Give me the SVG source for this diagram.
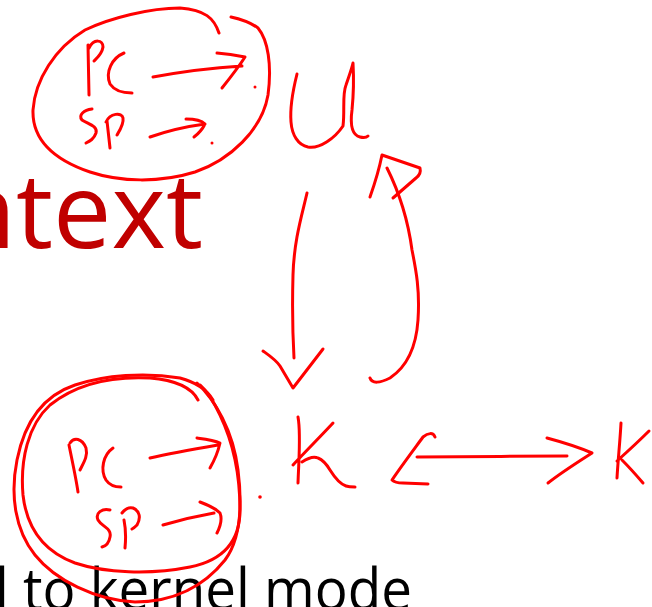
<svg xmlns="http://www.w3.org/2000/svg" width="652" height="607" viewBox="0 0 652 607">
  <style>
    .ink { fill: none; stroke: #ff0000; stroke-width: 3; stroke-linecap: round; stroke-linejoin: round; }
    .dot { fill: #ff0000; }
    .title { font-family: "Open Sans", "Liberation Sans", sans-serif; fill: #c00000; }
    .body { font-family: "Open Sans", "Liberation Sans", sans-serif; fill: #000000; }
  </style>
  <rect width="652" height="607" fill="#ffffff"/>

  <!-- slide text -->
  <text class="title" x="203" y="248" font-size="104" text-anchor="end">ntext</text>
  <text class="body" x="-5" y="610" font-size="58" textLength="417" lengthAdjust="spacingAndGlyphs">l to kernel mode</text>

  <!-- user-mode register context -->
  <g id="user-context">
    <path class="ink" d="M219,33 C214,18 205,10 180,8 C150,8 110,18 85,30 C55,48 35,80 33,110 C32,140 55,160 90,172 C120,182 160,183 195,172 C230,160 262,130 268,95 C272,65 268,40 258,28 C250,22 240,19 231,17"/>
    <path class="ink" d="M88,45 L89,95 M89,48 C94,38 103,40 103,47 C102,54 97,58 94,61"/>
    <path class="ink" d="M124,53 C112,58 105,72 110,84 C114,90 122,93 132,93"/>
    <path class="ink" d="M153,77 C180,72 210,68 242,66 M217,53 C230,54 240,56 245,57 C238,68 230,78 222,88"/>
    <circle class="dot" cx="255" cy="87" r="1.5"/>
    <path class="ink" d="M92,109 C84,110 78,115 82,120 C88,124 98,126 96,133 C94,139 90,141 86,143"/>
    <path class="ink" d="M107,121 L110,148 M106,122 C110,113 122,112 123,118 C124,124 120,130 117,135"/>
    <path class="ink" d="M150,137 C170,130 190,126 205,124 M186,119 C195,119 202,121 205,124 C202,130 198,134 194,137"/>
    <circle class="dot" cx="212" cy="143" r="1.5"/>
  </g>

  <!-- U -->
  <g id="user-mode">
    <path class="ink" d="M297,74 C293,90 290,110 291,122 C292,135 298,145 308,147 C320,149 335,138 343,126 C345,110 342,95 346,85 C349,76 352,68 353,63 C354,80 353,100 352,110 C350,125 352,135 360,137 C364,138 367,137 368,136"/>
  </g>

  <!-- kernel-mode register context -->
  <g id="kernel-context">
    <path class="ink" d="M197,383 C215,400 233,430 238,470 C243,510 240,540 225,560 C205,585 175,602 135,602 C95,600 55,580 35,555 C15,530 10,495 17,460 C25,420 45,395 75,385 C105,375 145,372 180,378 C195,382 207,390 213,400"/>
    <path class="ink" d="M198,400 C192,388 175,380 150,378 C110,376 75,385 50,405 C28,425 20,460 23,495 C27,530 45,552 75,563 C105,573 150,575 190,567 C225,560 240,540 240,510 C240,470 232,440 220,415 C213,400 208,392 200,385"/>
    <path class="ink" d="M69,445 C72,460 76,478 78,492 M70,443 C74,437 82,438 86,448 C88,456 84,462 80,470"/>
    <path class="ink" d="M113,448 C103,455 100,470 106,480 C110,486 115,487 121,487"/>
    <path class="ink" d="M150,458 C172,453 195,449 218,445 M197,438 C205,439 214,440 220,443 C218,452 214,461 210,468"/>
    <path class="ink" d="M110,510 C102,508 95,513 98,520 C102,527 112,528 110,537 C109,543 106,546 102,547"/>
    <path class="ink" d="M124,520 C126,530 126,538 125,548 M122,513 C125,509 129,507 133,508 C140,511 141,518 137,525 C135,527 134,528 132,529"/>
    <path class="ink" d="M163,525 C180,520 197,516 214,513 M200,502 C208,505 215,508 220,513 C222,518 222,523 217,533"/>
    <circle class="dot" cx="260" cy="497" r="1.8"/>
  </g>

  <!-- K -->
  <g id="kernel-mode">
    <path class="ink" d="M298,417 C301,433 299,455 298,483 M333,423 C320,437 305,452 293,465 M302,462 C308,458 314,456 318,458 C323,460 327,465 330,470 C335,478 340,484 346,486 C349,487 352,487 355,487"/>
  </g>

  <!-- second K -->
  <g id="kernel-mode-2">
    <path class="ink" d="M621,423 C620,442 618,460 617,478 M649,431 C638,442 627,452 617,461 M622,460 C630,468 637,476 643,483"/>
  </g>

  <!-- connectors -->
  <g id="connectors">
    <!-- U to K -->
    <path class="ink" d="M307,193 C302,215 294,240 293,275 C292,310 293,340 294,358"/>
    <path class="ink" d="M263,351 C270,356 276,360 280,366 L293,388 L323,349"/>
    <!-- K back to U -->
    <path class="ink" d="M370,378 C372,384 380,383 390,378 C405,368 416,350 418,320 C420,290 416,270 412,250 C408,220 398,190 387,168"/>
    <path class="ink" d="M370,197 C376,180 380,165 382,155 L420,168 C421,172 420,175 416,178 L393,198"/>
    <!-- K to K -->
    <path class="ink" d="M417,457 C460,457 520,456 567,456"/>
    <path class="ink" d="M435,437 C433,432 428,433 423,437 C412,452 400,468 392,480 C395,483 400,483 403,483 L428,484"/>
    <path class="ink" d="M547,438 C562,442 578,447 592,453 C578,462 562,472 548,483"/>
  </g>
</svg>
